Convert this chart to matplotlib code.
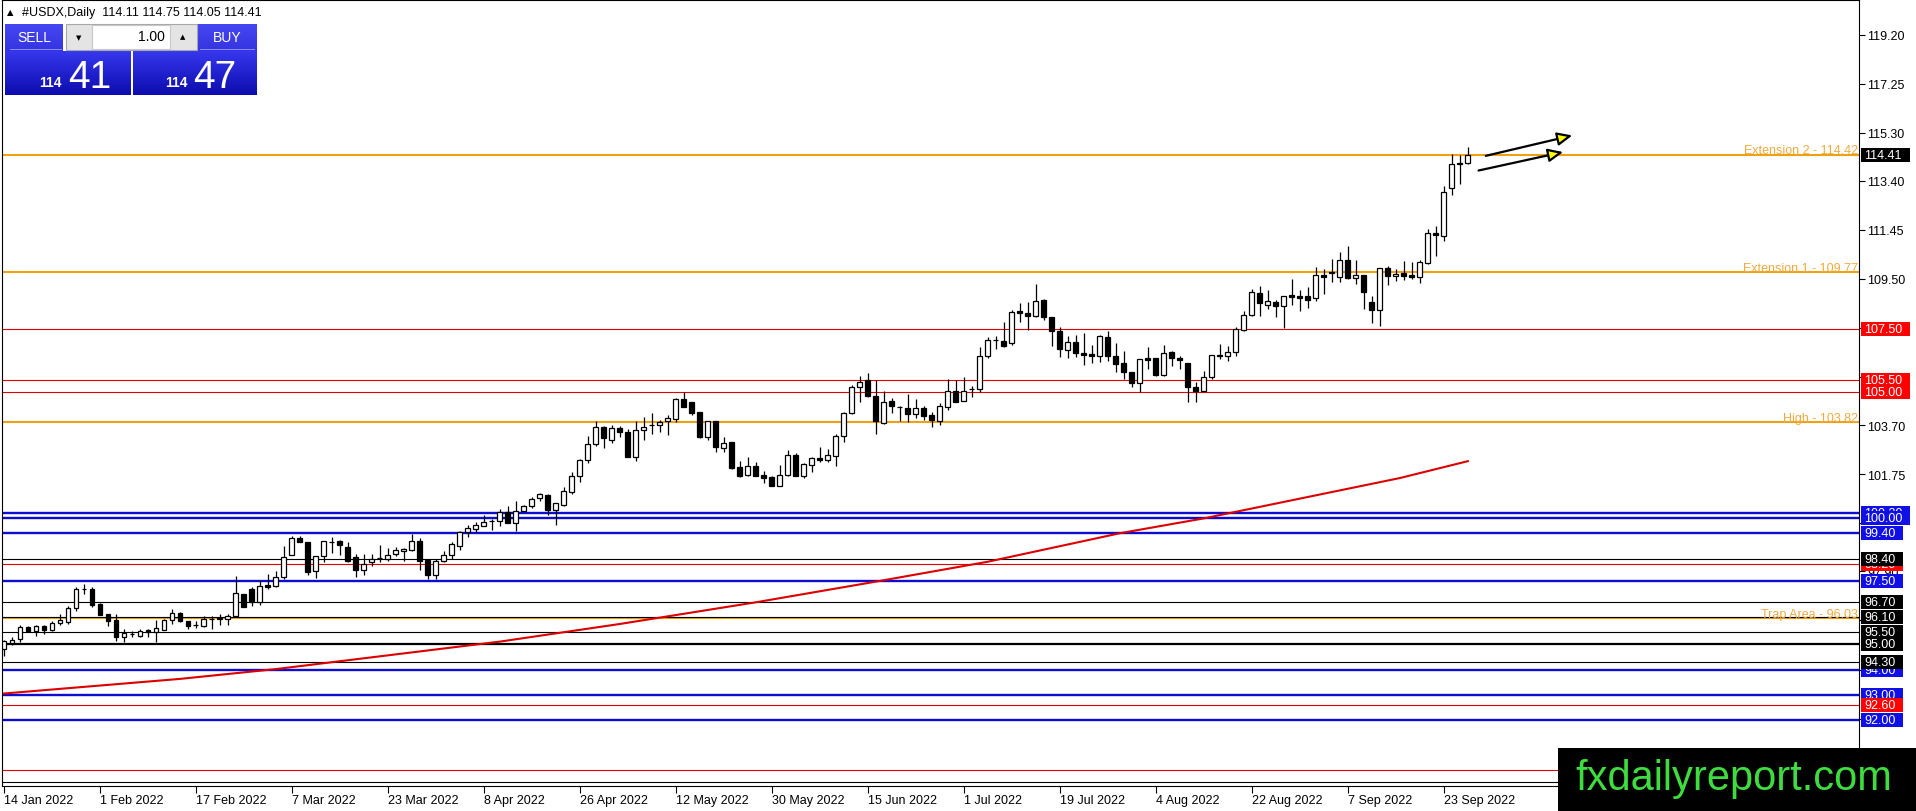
import numpy as np
import pandas as pd
import matplotlib
matplotlib.use('Agg')
import matplotlib.pyplot as plt
from matplotlib.patches import Rectangle, FancyArrowPatch
from matplotlib.colors import LinearSegmentedColormap
from matplotlib.transforms import blended_transform_factory

# daily candles, 14 Jan 2022 .. 28 Sep 2022
opens = [94.82, 95.05, 95.21, 95.68, 95.54, 95.74, 95.58, 95.84, 95.90, 96.43,
         97.19, 97.20, 96.60, 96.20, 95.97, 95.28, 95.42, 95.35, 95.57, 95.48,
         95.58, 95.97, 96.23, 95.91, 95.76, 95.74, 96.00, 96.02, 96.01, 96.14,
         97.00, 97.20, 96.67, 97.36, 97.30, 97.66, 98.56, 99.21, 99.08, 97.93,
         98.50, 99.05, 99.12, 98.86, 98.45, 97.95, 98.26, 98.44, 98.39, 98.60,
         98.71, 98.76, 99.09, 98.36, 97.77, 98.30, 98.55, 98.92, 99.45, 99.58,
         99.68, 99.90, 99.91, 100.24, 99.80, 100.31, 100.48, 100.80, 100.93, 100.33,
         100.55, 101.03, 101.70, 102.30, 102.95, 103.61, 103.12, 103.57, 103.41, 102.45,
         103.52, 103.70, 103.71, 103.88, 103.94, 104.74, 104.60, 104.21, 103.24, 103.88,
         102.79, 103.02, 102.03, 101.73, 102.07, 101.72, 101.63, 101.30, 101.73, 102.53,
         101.70, 102.10, 102.40, 102.30, 102.49, 103.28, 104.17, 105.20, 105.50, 104.84,
         103.79, 104.67, 104.40, 104.37, 104.14, 104.37, 104.10, 103.86, 104.43, 105.07,
         104.67, 105.13, 105.14, 106.46, 107.07, 107.03, 106.95, 108.22, 108.14, 108.02,
         108.66, 107.98, 107.42, 106.68, 107.01, 106.56, 106.51, 106.43, 107.18, 106.43,
         106.15, 105.80, 105.36, 106.35, 106.35, 105.70, 106.59, 106.35, 106.15, 105.20,
         105.07, 105.62, 106.48, 106.46, 106.62, 107.47, 108.08, 108.94, 108.48, 108.57,
         108.42, 108.88, 108.81, 108.81, 108.73, 109.66, 109.75, 109.57, 110.25, 109.53,
         109.66, 108.57, 108.28, 109.92, 109.60, 109.74, 109.67, 109.57, 110.15, 111.32,
         111.22, 113.10, 114.12, 114.11]
highs = [95.17, 95.28, 95.78, 95.74, 95.78, 95.78, 95.94, 96.21, 96.54, 97.26,
         97.40, 97.26, 96.63, 96.21, 96.21, 95.61, 95.54, 95.61, 95.61, 95.97,
         96.01, 96.40, 96.27, 95.94, 95.94, 96.14, 96.14, 96.21, 96.21, 97.73,
         97.00, 97.26, 97.55, 97.79, 97.93, 98.92, 99.31, 99.31, 99.08, 98.52,
         99.12, 99.25, 99.16, 99.05, 98.59, 98.59, 98.59, 98.94, 98.81, 98.85,
         98.81, 99.38, 99.22, 98.39, 98.39, 98.72, 99.08, 99.51, 99.74, 99.84,
         100.14, 99.97, 100.37, 100.50, 100.70, 100.54, 100.86, 100.99, 100.97, 100.60,
         101.26, 101.83, 102.36, 103.26, 103.88, 103.68, 103.72, 103.68, 103.55, 103.88,
         104.01, 104.18, 103.92, 104.12, 104.76, 105.00, 104.60, 104.21, 103.88, 103.88,
         103.22, 103.02, 102.26, 102.42, 102.22, 101.89, 101.70, 102.13, 102.73, 102.58,
         102.19, 102.42, 102.82, 102.75, 103.35, 104.23, 105.29, 105.66, 105.77, 105.50,
         105.07, 104.76, 104.47, 104.94, 104.74, 104.47, 104.21, 104.57, 105.53, 105.50,
         105.60, 105.27, 106.79, 107.21, 107.22, 107.78, 108.27, 108.55, 108.60, 109.30,
         108.71, 107.98, 107.58, 107.22, 107.28, 107.36, 106.88, 107.28, 107.45, 106.96,
         106.64, 105.80, 106.32, 106.79, 106.35, 106.89, 106.66, 106.46, 106.15, 105.43,
         105.86, 106.48, 106.92, 106.85, 107.58, 108.22, 109.10, 109.23, 109.08, 108.68,
         108.84, 109.50, 109.08, 109.17, 109.96, 109.90, 110.29, 110.56, 110.80, 110.25,
         109.66, 108.84, 109.92, 110.00, 109.90, 110.23, 110.16, 110.26, 111.50, 111.60,
         113.17, 114.46, 114.40, 114.75]
lows = [94.55, 94.99, 95.08, 95.48, 95.35, 95.41, 95.54, 95.78, 95.81, 96.34,
        97.00, 96.47, 96.18, 95.74, 95.15, 95.08, 95.28, 95.28, 95.31, 95.08,
        95.58, 95.81, 95.90, 95.61, 95.64, 95.68, 95.61, 95.78, 95.78, 96.10,
        96.47, 96.54, 96.56, 97.20, 97.26, 97.60, 98.56, 99.05, 97.75, 97.63,
        98.26, 98.63, 98.55, 98.28, 97.66, 97.77, 98.10, 98.26, 98.32, 98.52,
        98.32, 98.72, 97.95, 97.60, 97.60, 98.26, 98.39, 98.76, 99.25, 99.45,
        99.68, 99.55, 99.69, 99.80, 99.51, 100.31, 100.41, 100.68, 100.14, 99.75,
        100.50, 100.97, 101.46, 102.19, 102.86, 102.78, 102.99, 103.22, 102.42, 102.29,
        103.11, 103.35, 103.44, 103.31, 103.84, 104.43, 104.12, 103.20, 103.12, 102.62,
        102.62, 101.96, 101.63, 101.70, 101.70, 101.39, 101.27, 101.30, 101.70, 101.67,
        101.60, 101.83, 102.22, 102.22, 102.09, 103.02, 104.14, 104.61, 104.80, 103.35,
        103.75, 104.18, 103.88, 103.84, 103.97, 103.92, 103.64, 103.72, 104.31, 104.61,
        104.64, 104.80, 105.00, 106.35, 106.72, 106.79, 106.88, 107.81, 107.48, 107.98,
        107.89, 106.85, 106.39, 106.35, 106.39, 106.09, 106.15, 106.19, 106.23, 105.80,
        105.53, 105.20, 105.00, 105.93, 105.64, 105.66, 106.06, 105.93, 104.60, 104.60,
        105.04, 105.53, 106.33, 106.26, 106.46, 107.45, 108.02, 108.02, 108.31, 107.98,
        107.56, 108.47, 108.24, 108.35, 108.64, 108.90, 109.37, 109.37, 109.50, 109.30,
        108.31, 107.75, 107.65, 109.26, 109.40, 109.47, 109.50, 109.33, 110.08, 110.40,
        111.02, 112.85, 113.27, 114.05]
closes = [95.12, 95.17, 95.68, 95.55, 95.74, 95.58, 95.85, 95.97, 96.43, 97.20,
          97.20, 96.58, 96.18, 95.91, 95.28, 95.45, 95.41, 95.54, 95.50, 95.64,
          95.97, 96.25, 95.91, 95.73, 95.77, 96.01, 96.02, 96.03, 96.14, 97.03,
          96.47, 96.67, 97.33, 97.29, 97.66, 98.45, 99.21, 99.08, 97.89, 98.50,
          99.10, 99.07, 98.96, 98.32, 97.97, 98.19, 98.39, 98.41, 98.56, 98.75,
          98.77, 99.09, 98.32, 97.77, 98.30, 98.55, 98.98, 99.45, 99.60, 99.74,
          99.84, 99.91, 100.24, 99.80, 100.31, 100.48, 100.77, 100.95, 100.33, 100.60,
          101.07, 101.70, 102.32, 102.94, 103.64, 103.18, 103.57, 103.44, 102.45, 103.52,
          103.61, 103.71, 103.84, 103.97, 104.74, 104.43, 104.18, 103.24, 103.88, 102.85,
          102.98, 102.00, 101.67, 102.07, 101.70, 101.59, 101.30, 101.73, 102.53, 101.70,
          102.16, 102.40, 102.30, 102.53, 103.28, 104.17, 105.20, 105.43, 104.84, 103.85,
          104.60, 104.45, 104.41, 104.14, 104.37, 104.08, 103.90, 104.47, 105.07, 104.63,
          105.07, 105.14, 106.46, 107.08, 107.08, 106.85, 108.18, 108.14, 108.02, 108.61,
          107.98, 107.42, 106.72, 107.01, 106.55, 106.48, 106.44, 107.22, 106.43, 106.13,
          105.80, 105.36, 106.32, 106.30, 105.70, 106.55, 106.35, 106.29, 105.20, 105.07,
          105.62, 106.48, 106.43, 106.62, 107.52, 108.08, 108.97, 108.53, 108.61, 108.42,
          108.81, 108.77, 108.76, 108.67, 109.66, 109.59, 109.78, 110.25, 109.54, 109.66,
          108.97, 108.28, 109.92, 109.63, 109.70, 109.63, 109.59, 110.17, 111.32, 111.24,
          112.97, 114.07, 114.07, 114.41]

# moving average (bar index, value)
ma_bars = [0, 22, 34, 62, 77, 94, 109, 123, 139.5, 150, 174.5, 183]
ma_vals = [93.05, 93.63, 94.02, 95.11, 95.81, 96.67, 97.49, 98.28, 99.41, 100.0, 101.6, 102.27]

# horizontal levels
orange_levels = [114.42, 109.77, 103.82, 96.03]
orange_names = ['Extension 2', 'Extension 1', 'High', 'Trap Area']
red_levels = [107.50, 105.50, 105.00, 98.20, 92.60, 90.00]
blue_levels = [100.20, 100.00, 99.40, 97.50, 94.00, 93.00, 92.00]
black_levels = [98.40, 96.70, 96.10, 95.50, 94.30, 89.55]
black_thick = [95.00]

# price boxes on the right scale, in drawing order (later ones cover earlier)
box_vals = [107.50, 105.50, 105.00, 100.20, 100.00, 99.40, 98.20, 98.40, 97.50,
            96.70, 96.10, 95.50, 95.00, 94.00, 94.30, 93.00, 92.60, 92.00, 114.41]
box_cols = ['red', 'red', 'red', 'blue', 'blue', 'blue', 'red', 'black', 'blue',
            'black', 'black', 'black', 'black', 'blue', 'black', 'blue', 'red', 'blue', 'black']

# scale ticks; only some labels are left uncovered by the boxes
ytick_vals = [119.20, 117.25, 115.30, 113.40, 111.45, 109.50, 107.55, 105.60,
              103.70, 101.75, 99.80, 97.90, 95.95, 94.00, 92.05, 90.10]
ytick_shown = [119.20, 117.25, 115.30, 113.40, 111.45, 109.50, 103.70, 101.75, 97.90]

bid, ask = 114.41, 114.47

dates = pd.bdate_range('2022-01-14', periods=len(opens))

W, H = 1916, 812
plt.rcParams['font.family'] = ['Liberation Sans', 'DejaVu Sans']
fig = plt.figure(figsize=(W / 100, H / 100), dpi=100)
ax = fig.add_axes([2 / W, (H - 787) / H, (1859 - 2) / W, (787 - 1) / H])
ax.set_xlim(-0.25, 231.9)
ax.set_ylim(89.38, 120.57)

colmap = {'red': '#ff0000', 'blue': '#1010e6', 'black': '#000000'}

for v in orange_levels:
    ax.axhline(v, color='#f0a010', lw=1.5, zorder=2)
for v in red_levels:
    ax.axhline(v, color='#e00000', lw=0.8, zorder=2)
for v in blue_levels:
    ax.axhline(v, color='#0c0cd2', lw=1.7, zorder=2)
for v in black_levels:
    ax.axhline(v, color='black', lw=0.8, zorder=2)
for v in black_thick:
    ax.axhline(v, color='black', lw=1.6, zorder=2)

trans = blended_transform_factory(ax.transAxes, ax.transData)
for v, name in zip(orange_levels, orange_names):
    ax.text(0.9995, v + 0.06, f'{name} - {v:.2f}', transform=trans, ha='right',
            va='baseline', color='#f2aa40', fontsize=9, zorder=3)

ax.plot(ma_bars, ma_vals, color='#dd0000', lw=1.5, zorder=3)

# candles
o, h, l, c = map(np.array, (opens, highs, lows, closes))
idx = np.arange(len(o))
up = c >= o
ax.vlines(idx, l, h, color='black', lw=0.9, zorder=4)
lo = np.minimum(o, c)
hgt = np.maximum(np.abs(c - o), 0.015)
ax.bar(idx[up], hgt[up], bottom=lo[up], width=0.62, color='white',
       edgecolor='black', lw=0.9, zorder=5)
ax.bar(idx[~up], hgt[~up], bottom=lo[~up], width=0.62, color='black',
       edgecolor='black', lw=0.9, zorder=5)

# arrows
for (x0, y0, x1, y1) in [(184.9, 114.36, 196.4, 115.22), (184.0, 113.78, 195.25, 114.56)]:
    ar = FancyArrowPatch((x0, y0), (x1, y1), arrowstyle='-|>,head_length=9,head_width=4',
                         mutation_scale=1, facecolor='#ffff00', edgecolor='black',
                         lw=1.6, zorder=6)
    ax.add_patch(ar)

# axes and ticks
for s in ax.spines.values():
    s.set_linewidth(0.8)
    s.set_color('black')
ax.yaxis.tick_right()
ax.set_yticks(ytick_vals)
ax.set_yticklabels([f'{v:.2f}' if v in ytick_shown else '' for v in ytick_vals])
ax.tick_params(axis='y', length=4, width=0.8, pad=2, labelsize=9)
xt = idx[::12]
ax.set_xticks(xt)
ax.set_xticklabels([f'{d.day} {d.strftime("%b %Y")}' for d in dates[xt]])
ax.tick_params(axis='x', length=5, width=0.8, pad=1, labelsize=9)
for lab in ax.get_xticklabels():
    lab.set_horizontalalignment('left')

ax_w = 1857
bh = 14 / 25.2
for k, (v, col) in enumerate(zip(box_vals, box_cols)):
    txt = f'{v:.2f}'
    bw = 49 if len(txt) == 6 else 42
    ax.add_patch(Rectangle((1 + 2 / ax_w, v - bh / 2), bw / ax_w, bh, transform=trans,
                           facecolor=colmap[col], edgecolor='none', clip_on=False,
                           zorder=10 + 2 * k))
    ax.text(1 + 5 / ax_w, v, txt, transform=trans, ha='left', va='center',
            color='white', fontsize=9, clip_on=False, zorder=11 + 2 * k)


# top-left panel, positions in pixels from the top-left
def fx(x):
    return x / W


def fy(y):
    return 1 - y / H


def px_rect(x0, y0, x1, y1, **kw):
    fig.add_artist(Rectangle((fx(x0), fy(y1)), (x1 - x0) / W, (y1 - y0) / H,
                             transform=fig.transFigure, **kw))


def grad_box(x0, y0, x1, y1, top, bottom):
    gax = fig.add_axes([fx(x0), fy(y1), (x1 - x0) / W, (y1 - y0) / H])
    cm = LinearSegmentedColormap.from_list('g', [top, bottom])
    gax.imshow(np.linspace(0, 1, 64).reshape(-1, 1), aspect='auto', cmap=cm,
               extent=(0, 1, 0, 1), origin='upper')
    gax.set_axis_off()


fig.text(fx(7), fy(13), '\u25b2', fontsize=6, va='center', family=['DejaVu Sans'])
fig.text(fx(22), fy(13), f'#USDX,Daily  {opens[-1]:.2f} {highs[-1]:.2f} {lows[-1]:.2f} {closes[-1]:.2f}',
         fontsize=9, va='center')

grad_box(5, 25, 63, 52, '#4646f2', '#3434e0')
grad_box(197, 25, 257, 52, '#4646f2', '#3434e0')
grad_box(5, 52, 130, 96, '#3838f0', '#0c0cae')
grad_box(133, 52, 257, 96, '#3838f0', '#0c0cae')
px_rect(66, 25, 197, 51, facecolor='#e4e4e4', edgecolor='#a8a8a8', lw=0.8)
px_rect(92, 26, 170, 50, facecolor='white', edgecolor='#c8c8c8', lw=0.8)
px_rect(10, 50, 62, 51, facecolor='#8a8aff', edgecolor='none')
px_rect(200, 50, 255, 51, facecolor='#8a8aff', edgecolor='none')

fig.text(fx(34), fy(38), 'SELL', color='white', fontsize=10, ha='center', va='center')
fig.text(fx(227), fy(38), 'BUY', color='white', fontsize=10, ha='center', va='center')
fig.text(fx(165), fy(37), '1.00', color='black', fontsize=10, ha='right', va='center')
fig.text(fx(79), fy(38), '\u25bc', fontsize=5, ha='center', va='center', family=['DejaVu Sans'])
fig.text(fx(183), fy(37), '\u25b2', fontsize=5, ha='center', va='center', family=['DejaVu Sans'])

big = ['Liberation Sans Narrow', 'Liberation Sans']
bid_s, ask_s = f'{bid:.2f}', f'{ask:.2f}'
fig.text(fx(39), fy(87), bid_s[:3], color='white', fontsize=10, fontweight='bold', va='baseline')
fig.text(fx(68), fy(88), bid_s[4:], color='white', fontsize=28, va='baseline', family=big)
fig.text(fx(165), fy(87), ask_s[:3], color='white', fontsize=10, fontweight='bold', va='baseline')
fig.text(fx(193), fy(88), ask_s[4:], color='white', fontsize=28, va='baseline', family=big)

# watermark
px_rect(1558, 749, 1916, 812, facecolor='black', edgecolor='none')
fig.text(fx(1575), fy(790), 'fxdailyreport.com', color='#3edc3e', fontsize=30, va='baseline')

fig.savefig('out.png', dpi=100)
